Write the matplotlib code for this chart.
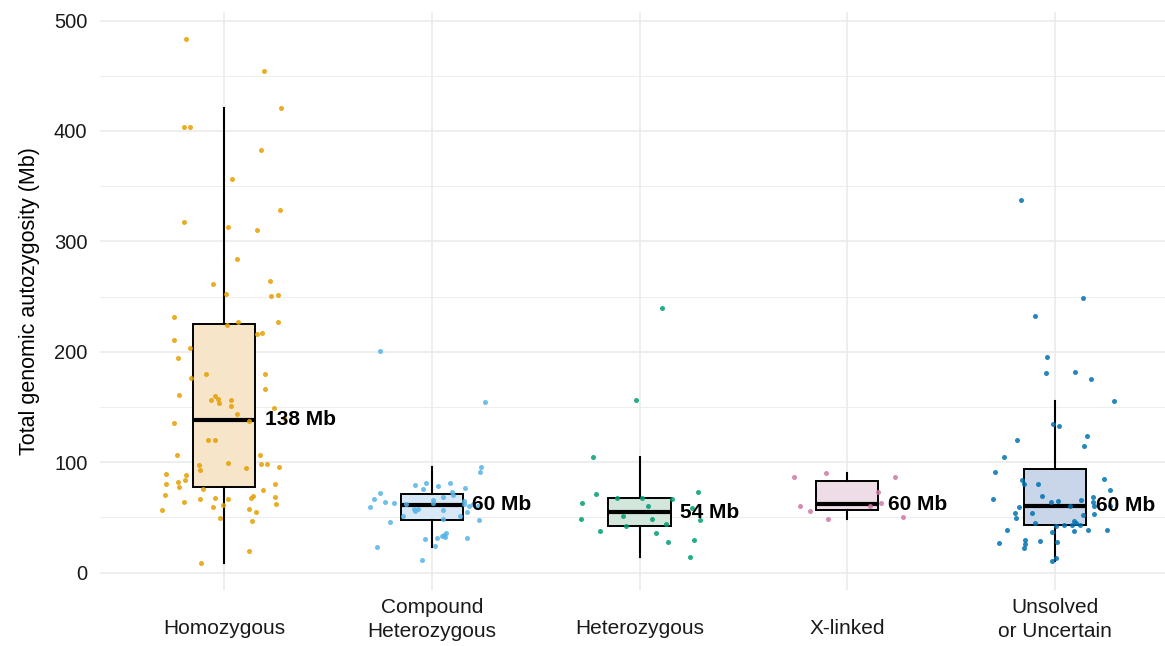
import matplotlib
matplotlib.use("Agg")
import matplotlib.pyplot as plt
import matplotlib.transforms as mtransforms
import numpy as np

plt.rcParams['font.family'] = ['Liberation Sans', 'DejaVu Sans']

categories = ["Homozygous", "Compound\nHeterozygous", "Heterozygous", "X-linked", "Unsolved\nor Uncertain"]
median_labels = ["138 Mb", "60 Mb", "54 Mb", "60 Mb", "60 Mb"]
colors = ["#E69F00", "#56B4E9", "#009E73", "#CC79A7", "#0072B2"]
fills = ["#F6E5C9", "#D8E8F6", "#D3E6DC", "#EEDCE6", "#C9D6EA"]

homo_vals = [483.5, 454.2, 420.7, 403.3, 403.3, 383.0, 356.2, 328.1, 317.2, 313.2,
             309.9, 284.3, 261.7, 263.8, 252.0, 250.2, 251.4, 231.2, 226.6, 226.9,
             224.2, 215.8, 216.9, 210.3, 203.3, 194.0, 179.8, 179.8, 176.2, 165.9,
             160.5, 159.6, 157.2, 156.3, 153.5, 156.0, 151.1, 149.3, 143.9, 135.7,
             137.0, 139.9, 120.3, 119.7, 106.7, 106.4, 99.2, 98.0, 98.0, 95.3,
             97.7, 92.8, 94.9, 89.0, 88.3, 81.7, 83.5, 77.7, 79.9, 80.4,
             75.9, 75.0, 70.5, 69.6, 67.5, 68.7, 63.6, 66.3, 67.8, 66.3,
             62.0, 60.8, 59.3, 56.6, 57.8, 54.8, 49.6, 46.6, 19.2, 8.9]
homo_jit = [-0.184, 0.193, 0.276, -0.191, -0.162, 0.180, 0.039, 0.268, -0.193, 0.018,
            0.159, 0.063, -0.053, 0.220, 0.011, 0.225, 0.258, -0.239, 0.258, 0.069,
            0.014, 0.159, 0.183, -0.239, -0.165, -0.223, 0.196, -0.087, -0.160, 0.197,
            -0.215, -0.043, -0.030, -0.064, -0.024, 0.035, 0.034, 0.239, 0.063, -0.241,
            0.120, 0.290, -0.078, -0.043, -0.226, 0.173, 0.019, 0.177, 0.207, 0.265,
            -0.120, -0.116, 0.104, -0.281, -0.184, -0.221, -0.188, -0.215, -0.279, 0.244,
            -0.100, 0.186, -0.284, 0.138, 0.130, 0.245, -0.193, -0.114, -0.045, 0.021,
            0.250, -0.006, -0.054, -0.297, 0.122, 0.154, -0.018, 0.135, 0.122, -0.111]

comp_vals = [200.3, 154.7, 95.3, 91.0, 79.0, 81.3, 78.1, 81.1, 75.4, 76.3,
             72.0, 66.8, 72.9, 69.9, 68.7, 63.6, 63.2, 59.1, 62.0, 65.4,
             62.7, 64.5, 61.8, 60.5, 62.0, 60.5, 57.8, 57.2, 55.7, 56.6,
             55.1, 51.4, 50.9, 48.2, 45.7, 47.8, 36.1, 34.2, 33.3, 32.4,
             31.5, 31.5, 30.1, 23.7, 23.1, 11.1]
comp_jit = [-0.250, 0.257, 0.237, 0.234, -0.082, -0.027, 0.030, 0.088, -0.043, 0.160,
            -0.247, -0.279, 0.096, 0.100, 0.054, -0.226, -0.181, -0.298, -0.125, 0.005,
            0.005, 0.155, 0.157, 0.178, 0.199, 0.223, -0.085, -0.067, -0.082, 0.054,
            0.168, -0.138, 0.135, 0.053, -0.201, 0.228, 0.069, 0.059, 0.050, 0.063,
            0.027, 0.168, -0.032, 0.016, -0.266, -0.045]

het_vals = [239.9, 156.0, 105.0, 73.2, 71.1, 63.2, 67.8, 67.2, 66.6, 60.0,
            48.2, 51.2, 48.7, 47.3, 41.8, 43.9, 37.6, 35.5, 27.4, 29.2,
            14.3, 58.2]
het_jit = [0.106, -0.016, -0.226, 0.279, -0.208, -0.278, -0.109, 0.010, 0.155, 0.043,
           -0.283, -0.080, 0.059, 0.292, -0.067, 0.127, -0.189, 0.077, 0.136, 0.263,
           0.245, 0.252]

xl_vals = [86.2, 90.1, 86.2, 60.0, 56.0, 48.5, 72.9, 63.2, 60.0, 50.0]
xl_jit = [-0.258, -0.104, 0.231, -0.230, -0.178, -0.091, 0.146, 0.162, 0.111, 0.266]

uns_vals = [337.7, 248.6, 232.3, 194.9, 180.4, 181.6, 175.3, 155.6, 134.5, 133.0,
            119.7, 123.9, 114.3, 104.3, 90.8, 84.4, 84.1, 79.9, 80.2, 74.7,
            66.8, 69.0, 65.0, 65.9, 68.1, 64.1, 60.5, 63.6, 59.3, 54.2,
            49.6, 53.9, 52.1, 53.3, 46.6, 44.6, 44.6, 42.4, 42.8, 42.8,
            43.3, 38.2, 37.0, 37.6, 38.5, 38.2, 27.0, 29.4, 26.1, 22.2,
            28.8, 27.6, 12.9, 10.7, 60.0, 60.3]
uns_jit = [-0.164, 0.133, -0.095, -0.037, -0.043, 0.096, 0.175, 0.283, -0.011, 0.021,
           -0.184, 0.154, 0.140, -0.245, -0.287, 0.234, -0.160, -0.148, -0.083, 0.263,
           -0.300, -0.064, 0.016, 0.124, 0.181, 0.184, 0.189, -0.021, -0.172, -0.194,
           -0.189, -0.109, 0.135, 0.189, 0.093, 0.100, -0.096, 0.005, 0.042, 0.082,
           0.122, -0.232, -0.013, 0.090, 0.157, 0.249, -0.270, -0.143, -0.144, -0.149,
           -0.072, 0.010, 0.005, -0.013, 0.265, 0.072]

groups = [homo_vals, comp_vals, het_vals, xl_vals, uns_vals]
jitters = [homo_jit, comp_jit, het_jit, xl_jit, uns_jit]

W, H = 1165, 646
fig = plt.figure(figsize=(W / 100, H / 100), dpi=100)
ax = fig.add_axes([100 / W, (646 - 590) / H, 1065 / W, 578 / H])

pos = np.arange(len(categories))

# grid
for y in [50, 150, 250, 350, 450]:
    ax.axhline(y, color="#EBEBEB", lw=0.6, zorder=0)
for y in [0, 100, 200, 300, 400, 500]:
    ax.axhline(y, color="#EBEBEB", lw=1.2, zorder=0)
for x in pos:
    ax.axvline(x, color="#EBEBEB", lw=1.2, zorder=0)

bp = ax.boxplot(groups, positions=pos, widths=0.3, patch_artist=True,
                showfliers=False, whis=1.5, showcaps=False,
                medianprops=dict(color="black", lw=3.0, solid_capstyle="butt"),
                whiskerprops=dict(color="black", lw=1.5),
                boxprops=dict(edgecolor="black", lw=1.4), zorder=2)
for patch, c in zip(bp["boxes"], fills):
    patch.set_facecolor(c)

for i, (vals, jit) in enumerate(zip(groups, jitters)):
    ax.scatter(np.array(jit) + pos[i], vals, s=13, color=colors[i], alpha=0.85,
               linewidths=0, zorder=3)

for i, vals in enumerate(groups):
    med = np.median(vals)
    ax.text(pos[i] + 0.195, med, median_labels[i], ha="left", va="center",
            fontsize=15, fontweight="bold", color="black", zorder=4)

ax.set_xlim(-0.597, 4.529)
ax.set_ylim(-15.85, 507.7)
ax.set_xticks(pos)
ax.set_xticklabels([])
trans = mtransforms.blended_transform_factory(ax.transData, fig.transFigure)
for i, lab in enumerate(categories):
    ycen = 628 if "\n" not in lab else 619.5
    ax.text(pos[i], (646 - ycen) / H, lab, transform=trans, ha="center", va="center",
            fontsize=15, color="#1A1A1A", linespacing=1.38)
ax.set_yticks([0, 100, 200, 300, 400, 500])
ax.set_yticklabels(["0", "100", "200", "300", "400", "500"], fontsize=14.5, color="#1A1A1A")
ax.tick_params(axis="both", length=0)
ax.tick_params(axis="y", pad=9)
ax.set_ylabel("Total genomic autozygosity (Mb)", fontsize=15.5, color="black", labelpad=10)
for s in ax.spines.values():
    s.set_visible(False)

fig.savefig("out.png", dpi=100)
